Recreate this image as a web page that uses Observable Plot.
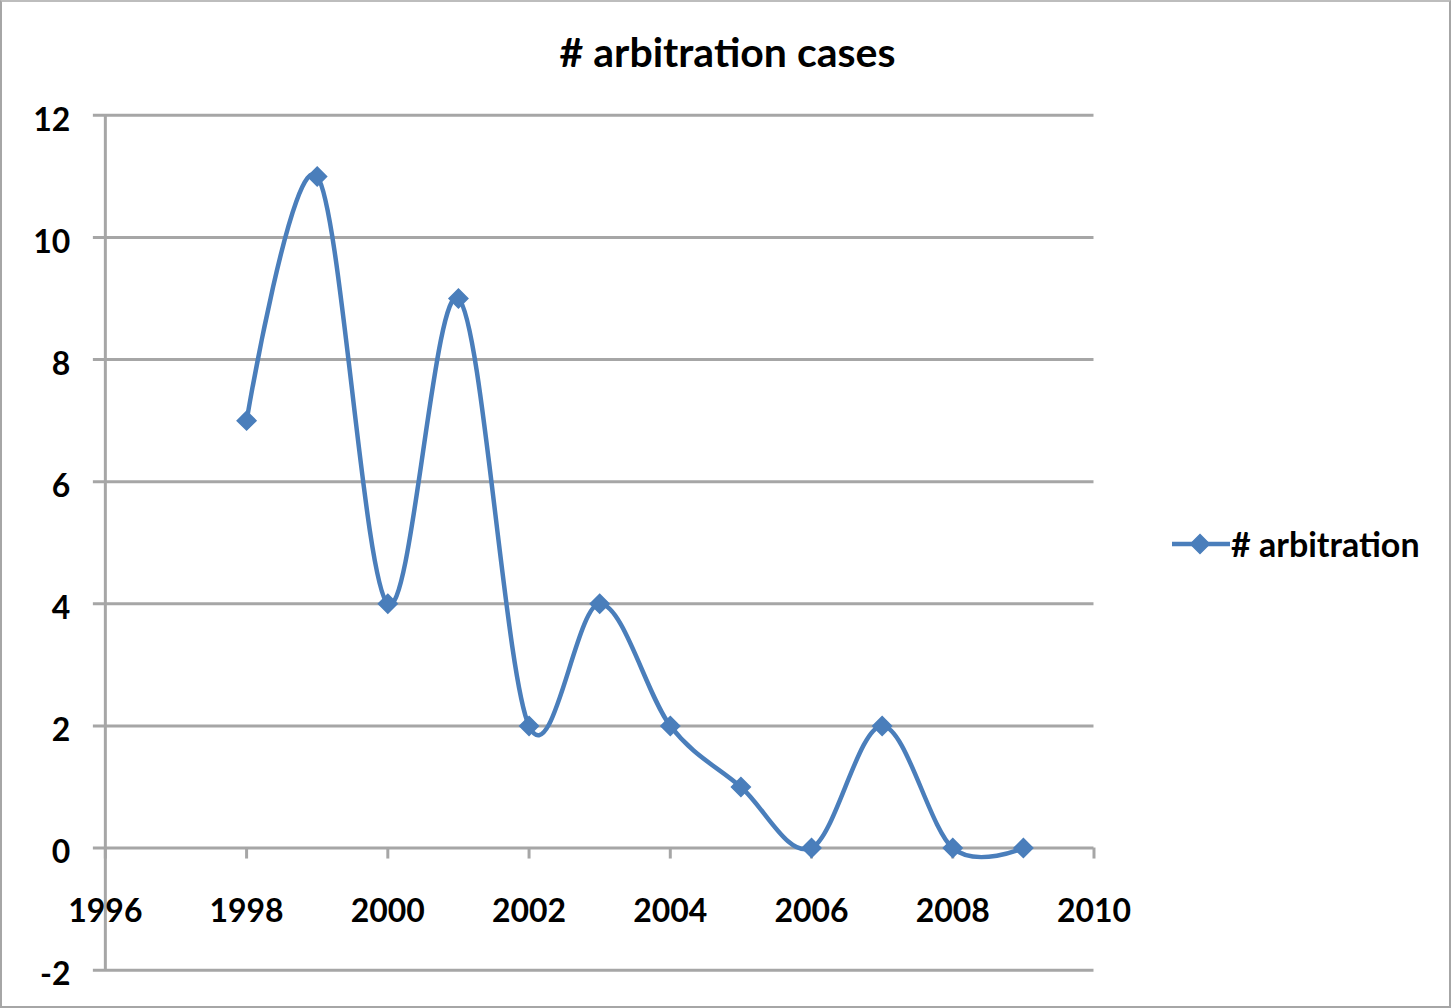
<!DOCTYPE html>
<html>
<head>
<meta charset="utf-8">
<script src="https://cdn.jsdelivr.net/npm/d3@7"></script>
<script src="https://cdn.jsdelivr.net/npm/@observablehq/plot@0.6"></script>
<style>
  html, body { margin: 0; padding: 0; background: #fff; }
  #frame { position: relative; width: 1451px; height: 1008px; box-sizing: border-box; border: 2px solid #a6a6a6; border-top-color: #bdbdbd; font-family: Lato, "Open Sans", sans-serif; font-weight: 700; color: #000; overflow: hidden; }
  #title { position: absolute; left: 0; top: 26px; width: 1451px; text-align: center; font-size: 41px; line-height: 48px; }
  #chart { position: absolute; left: -2px; top: -2px; }
  #legend { position: absolute; left: 1166px; top: 522px; display: flex; align-items: center; font-size: 34px; line-height: 40px; }
  #legend svg { margin-right: 1px; }
</style>
</head>
<body>
<div id="frame">
  <div id="chart"></div>
  <div id="title"></div>
  <div id="legend"></div>
</div>
<script>
const titleText = "# arbitration cases";
const seriesName = "# arbitration";
const years = [1998, 1999, 2000, 2001, 2002, 2003, 2004, 2005, 2006, 2007, 2008, 2009];
const cases = [7, 11, 4, 9, 2, 4, 2, 1, 0, 2, 0, 0];
const xTicks = [1996, 1998, 2000, 2002, 2004, 2006, 2008, 2010];
const yTicks = [-2, 0, 2, 4, 6, 8, 10, 12];
const lineColor = "#4a7ebb";
const gridColor = "#a6a6a6";

const data = years.map((y, i) => ({year: y, value: cases[i]}));

document.getElementById("title").textContent = titleText;

const chart = Plot.plot({
  width: 1451,
  height: 1008,
  marginTop: 115,
  marginBottom: 37,
  marginLeft: 105,
  marginRight: 356,
  style: {fontFamily: "Lato, 'Open Sans', sans-serif", fontWeight: 700, fontSize: "32px", color: "#000", background: "transparent"},
  x: {domain: [1996, 2010], axis: null},
  y: {domain: [-2, 12], axis: null},
  marks: [
    // horizontal gridlines (extend left as tick marks)
    Plot.ruleY(yTicks, {x1: 1996, x2: 2010, stroke: gridColor, strokeWidth: 3, insetLeft: -12}),
    // vertical axis line
    Plot.ruleX([1996], {y1: -2, y2: 12, stroke: gridColor, strokeWidth: 3}),
    // y tick labels
    Plot.text(yTicks, {x: 1996, y: d => d, text: d => String(d), textAnchor: "end", dx: -35, dy: 5, fill: "#000", fontSize: 32}),
    // x tick marks hanging below zero line
    Plot.ruleX(xTicks, {x: d => d, y1: 0, y2: 0, stroke: gridColor, strokeWidth: 3, insetBottom: -11}),
    // x tick labels
    Plot.text(xTicks, {x: d => d, y: 0, text: d => String(d), dy: 64, fill: "#000", fontSize: 32}),
    // series
    Plot.line(data, {x: "year", y: "value", curve: "cardinal", stroke: lineColor, strokeWidth: 4.5}),
    Plot.dot(data, {x: "year", y: "value", symbol: "diamond2", r: 8.5, fill: lineColor, stroke: lineColor, strokeWidth: 1.5})
  ]
});
document.getElementById("chart").appendChild(chart);

// legend
const legend = document.getElementById("legend");
const ls = d3.create("svg").attr("width", 62).attr("height", 40);
ls.append("line").attr("x1", 4).attr("x2", 62).attr("y1", 20).attr("y2", 20)
  .attr("stroke", lineColor).attr("stroke-width", 4.5);
ls.append("path").attr("d", d3.symbol(d3.symbolDiamond2, 8.5 * 8.5 * Math.PI)())
  .attr("transform", "translate(32,20)").attr("fill", lineColor).attr("stroke", lineColor).attr("stroke-width", 1.5);
legend.appendChild(ls.node());
const lt = document.createElement("span");
lt.textContent = seriesName;
legend.appendChild(lt);
</script>
</body>
</html>
